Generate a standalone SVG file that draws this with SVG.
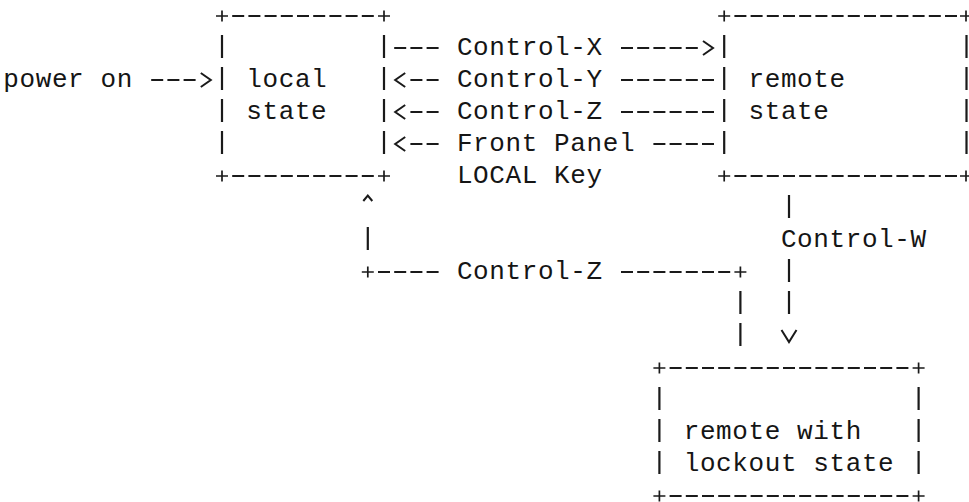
<svg xmlns="http://www.w3.org/2000/svg" width="969" height="502" viewBox="0 0 969 502">
<style>
.t { font-family: "Liberation Mono", "DejaVu Sans Mono", monospace; font-size: 26px; letter-spacing: 0.6px; fill: #151515; }
.h { stroke: #1a1a1a; stroke-width: 1.8; stroke-dasharray: 12 4.2; fill: none; }
.v { stroke: #1a1a1a; stroke-width: 2.2; stroke-dasharray: 23 9; fill: none; }
.s { stroke: #1a1a1a; stroke-width: 2.2; fill: none; }
.p { stroke: #1a1a1a; stroke-width: 1.7; fill: none; }
.m { stroke: #1a1a1a; stroke-width: 2; fill: none; stroke-linejoin: miter; }
</style>
<defs>
<path id="plus" class="p" d="M-6,0H6M0,-5.5V5.5"/>
<marker id="ah" markerUnits="userSpaceOnUse" viewBox="0 -10 20 20" markerWidth="20" markerHeight="20" refX="0" refY="0" orient="auto" overflow="visible">
<path class="m" d="M5.2,-7 L15.2,0 L5.2,7"/>
</marker>
<marker id="caret" markerUnits="userSpaceOnUse" viewBox="0 -10 40 20" markerWidth="40" markerHeight="20" refX="0" refY="0" orient="auto" overflow="visible">
<path class="m" d="M26,-4.5 L31.5,0 L26,4.5"/>
</marker>
<marker id="vee" markerUnits="userSpaceOnUse" viewBox="0 -10 40 20" markerWidth="40" markerHeight="20" refX="0" refY="0" orient="auto" overflow="visible">
<path class="m" d="M16,-7.5 L28,0 L16,7.5"/>
</marker>
</defs>
<rect width="969" height="502" fill="#ffffff"/>

<g id="local-state">
<use href="#plus" x="222" y="16"/><use href="#plus" x="384" y="16"/>
<use href="#plus" x="222" y="176"/><use href="#plus" x="384" y="176"/>
<line class="h" x1="232.2" y1="16" x2="373.8" y2="16"/>
<line class="h" x1="232.2" y1="176" x2="373.8" y2="176"/>
<line class="v" x1="222" y1="35" x2="222" y2="154"/>
<line class="v" x1="384" y1="35" x2="384" y2="154"/>
<text class="t" x="246.3" y="87">local</text>
<text class="t" x="246.3" y="119">state</text>
</g>

<g id="remote-state">
<use href="#plus" x="724.2" y="16"/><use href="#plus" x="966" y="16"/>
<use href="#plus" x="724.2" y="176"/><use href="#plus" x="966" y="176"/>
<line class="h" x1="734.4" y1="16" x2="957" y2="16"/>
<line class="h" x1="734.4" y1="176" x2="957" y2="176"/>
<line class="v" x1="724.2" y1="35" x2="724.2" y2="154"/>
<line class="v" x1="966.5" y1="35" x2="966.5" y2="154"/>
<text class="t" x="748.5" y="87">remote</text>
<text class="t" x="748.5" y="119">state</text>
</g>

<g id="remote-lockout-state">
<use href="#plus" x="659.4" y="368"/><use href="#plus" x="918.6" y="368"/>
<use href="#plus" x="659.4" y="496"/><use href="#plus" x="918.6" y="496"/>
<line class="h" x1="669.6" y1="368" x2="908.4" y2="368"/>
<line class="h" x1="669.6" y1="496" x2="908.4" y2="496"/>
<line class="v" x1="659.4" y1="387" x2="659.4" y2="474"/>
<line class="v" x1="918.6" y1="387" x2="918.6" y2="474"/>
<text class="t" x="683.7" y="439">remote with</text>
<text class="t" x="683.7" y="471">lockout state</text>
</g>

<g id="connectors">
<g id="power-on">
<text class="t" x="3.3" y="87">power on</text>
<line class="h" x1="151.2" y1="80" x2="195.6" y2="80" marker-end="url(#ah)"/>
</g>
<g id="control-x">
<line class="h" x1="394.2" y1="48" x2="438.6" y2="48"/>
<text class="t" x="456.9" y="55">Control-X</text>
<line class="h" x1="621" y1="48" x2="697.8" y2="48" marker-end="url(#ah)"/>
</g>
<g id="control-y">
<line class="h" x1="438.6" y1="80" x2="410.4" y2="80" marker-end="url(#ah)"/>
<text class="t" x="456.9" y="87">Control-Y</text>
<line class="h" x1="621" y1="80" x2="714" y2="80"/>
</g>
<g id="control-z">
<line class="h" x1="438.6" y1="112" x2="410.4" y2="112" marker-end="url(#ah)"/>
<text class="t" x="456.9" y="119">Control-Z</text>
<line class="h" x1="621" y1="112" x2="714" y2="112"/>
</g>
<g id="front-panel-local-key">
<line class="h" x1="438.6" y1="144" x2="410.4" y2="144" marker-end="url(#ah)"/>
<text class="t" x="456.9" y="151">Front Panel</text>
<text class="t" x="456.9" y="183">LOCAL Key</text>
<line class="h" x1="653.4" y1="144" x2="714" y2="144"/>
</g>
<g id="control-w">
<line class="s" x1="789" y1="195" x2="789" y2="218"/>
<text class="t" x="780.9" y="247">Control-W</text>
<line class="v" x1="789" y1="259" x2="789" y2="314" marker-end="url(#vee)"/>
</g>
<g id="control-z-lockout">
<line class="v" x1="740.4" y1="346" x2="740.4" y2="291"/>
<use href="#plus" x="740.4" y="272"/>
<line class="h" x1="730.2" y1="272" x2="621" y2="272"/>
<text class="t" x="456.9" y="279">Control-Z</text>
<line class="h" x1="438.6" y1="272" x2="378" y2="272"/>
<use href="#plus" x="367.8" y="272"/>
<line class="s" x1="367.8" y1="250" x2="367.8" y2="227" marker-end="url(#caret)"/>
</g>
</g>
</svg>
